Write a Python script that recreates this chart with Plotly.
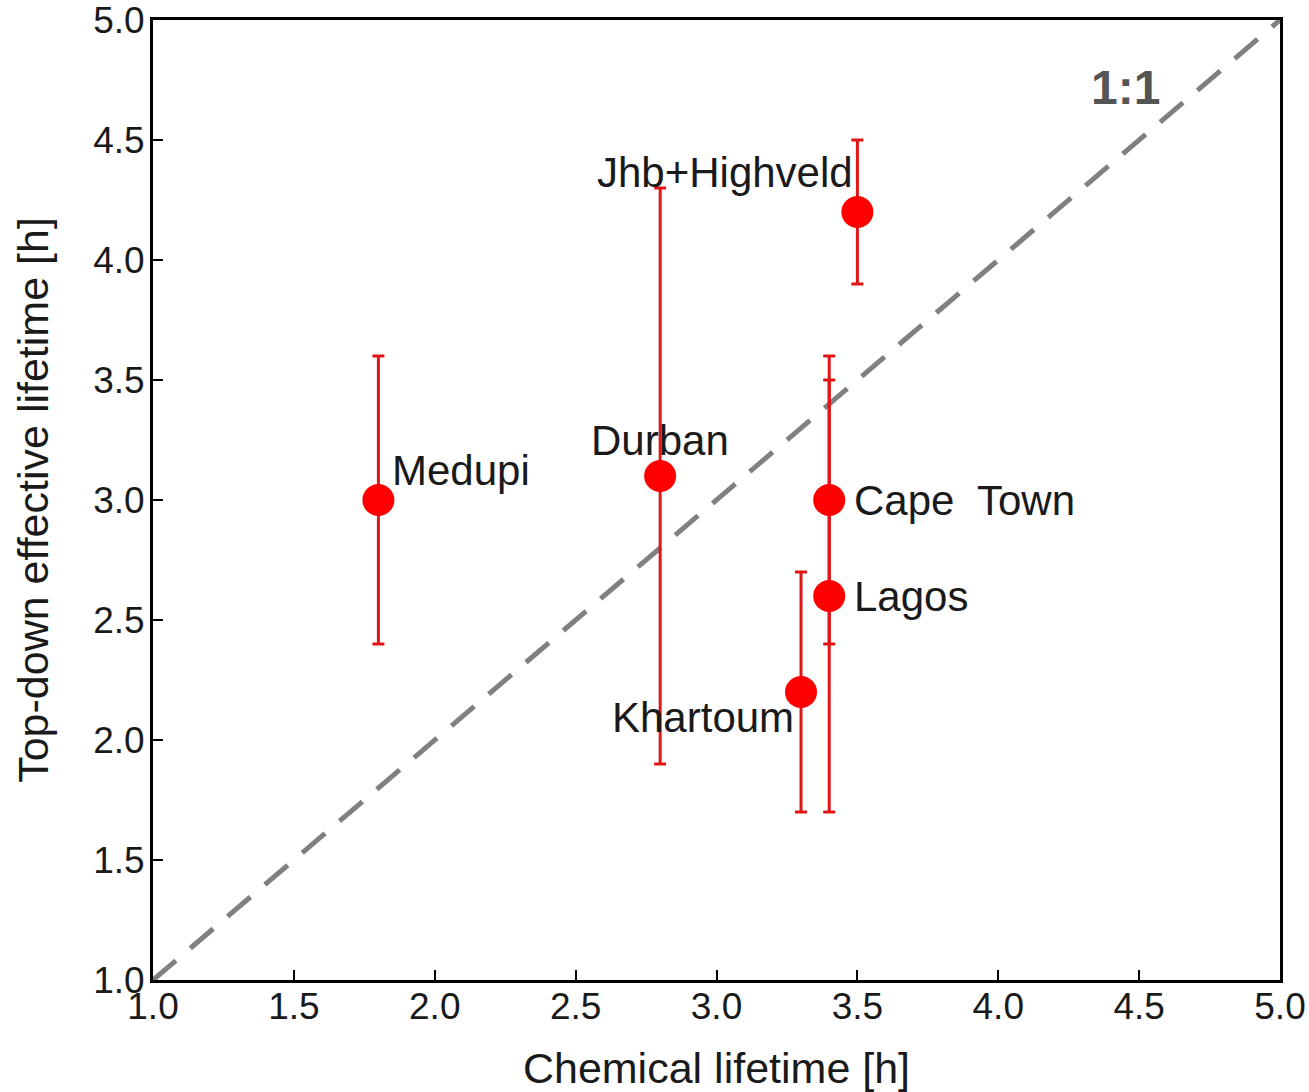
import plotly.graph_objects as go

# Data
sites = ["Medupi", "Durban", "Jhb+Highveld", "Cape  Town", "Lagos", "Khartoum"]
chem_lifetime = [1.8, 2.8, 3.5, 3.4, 3.4, 3.3]
topdown_lifetime = [3.0, 3.1, 4.2, 3.0, 2.6, 2.2]
err_up = [0.6, 1.2, 0.3, 0.6, 0.9, 0.5]
err_down = [0.6, 1.2, 0.3, 0.6, 0.9, 0.5]
tick_vals = [1.0, 1.5, 2.0, 2.5, 3.0, 3.5, 4.0, 4.5, 5.0]
tick_text = ["1.0", "1.5", "2.0", "2.5", "3.0", "3.5", "4.0", "4.5", "5.0"]
diag = [1.0, 5.0]

# label placement (pixel offsets / anchors)
label_xshift = [12, 0, -2, 23, 23, -5]
label_yshift = [30, 36, 40, 0, 0, -25]
label_xanchor = ["left", "center", "right", "left", "left", "right"]

font_family = "Liberation Sans, Arial, sans-serif"
txt_color = "#1a1a1a"

fig = go.Figure()

fig.add_trace(go.Scatter(
    x=diag, y=diag, mode="lines",
    line=dict(color="#808080", width=5, dash="30px,19px"),
    hoverinfo="skip", showlegend=False,
))

fig.add_trace(go.Scatter(
    x=chem_lifetime, y=topdown_lifetime, mode="markers",
    marker=dict(color="#ff0000", size=32, line=dict(width=0)),
    error_y=dict(type="data", symmetric=False, array=err_up, arrayminus=err_down,
                 color="#e01515", thickness=3, width=6),
    showlegend=False,
))

for s, x, y, xs, ys, xa in zip(sites, chem_lifetime, topdown_lifetime,
                               label_xshift, label_yshift, label_xanchor):
    fig.add_annotation(x=x, y=y, text=s, showarrow=False, xanchor=xa, yanchor="middle",
                       xshift=xs, yshift=ys,
                       font=dict(family=font_family, size=42, color=txt_color))

fig.add_annotation(x=4.45, y=4.72, text="<b>1:1</b>", showarrow=False,
                   xanchor="center", yanchor="middle",
                   font=dict(family=font_family, size=48, color="#555555"))

axis_common = dict(
    range=[1.0, 5.0], tickvals=tick_vals, ticktext=tick_text,
    ticks="inside", ticklen=10, tickwidth=2, tickcolor="black",
    showline=True, linecolor="black", linewidth=3, mirror=True,
    showgrid=False, zeroline=False, automargin=False,
    ticklabeloverflow="allow",
    tickfont=dict(family=font_family, size=37, color=txt_color),
)

fig.update_layout(
    width=1309, height=1092,
    margin=dict(l=153, r=29, t=20, b=112),
    paper_bgcolor="white", plot_bgcolor="white",
    xaxis=dict(**axis_common, ticklabelstandoff=-8,
               title=dict(text="Chemical lifetime [h]", standoff=28,
                          font=dict(family=font_family, size=43, color=txt_color))),
    yaxis=dict(**axis_common, ticklabelstandoff=-2,
               title=dict(text="Top-down effective lifetime [h]", standoff=32,
                          font=dict(family=font_family, size=43, color=txt_color))),
)

fig.write_html("out.html", config={"displayModeBar": False},
               post_script="document.body.style.margin='0px';document.body.style.overflow='hidden';")
